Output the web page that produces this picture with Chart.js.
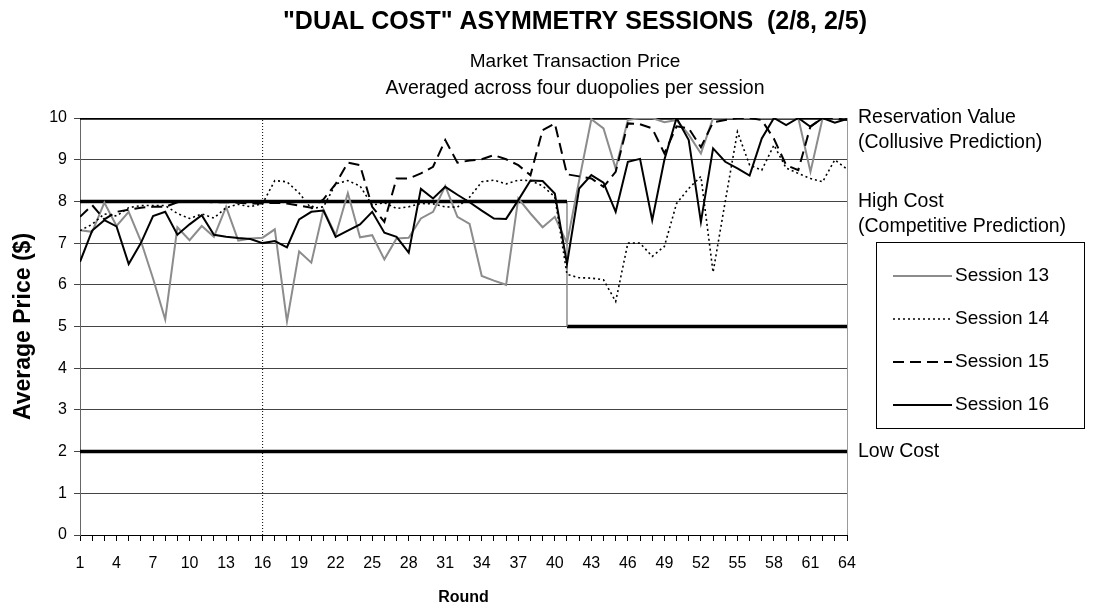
<!DOCTYPE html>
<html lang="en">
<head>
<meta charset="UTF-8" />
<title>Dual Cost Asymmetry Sessions</title>
<style>
  body { margin: 0; background: #fff; }
  #wrap { width: 1096px; height: 615px; }
</style>
</head>
<body>
<div id="wrap"><canvas id="priceChart"></canvas></div>
<script src="https://cdn.jsdelivr.net/npm/chart.js"></script>
<script>
// rounds 1..64
const rounds = [1, 2, 3, 4, 5, 6, 7, 8, 9, 10, 11, 12, 13, 14, 15, 16,
  17, 18, 19, 20, 21, 22, 23, 24, 25, 26, 27, 28, 29, 30, 31, 32,
  33, 34, 35, 36, 37, 38, 39, 40, 41, 42, 43, 44, 45, 46, 47, 48,
  49, 50, 51, 52, 53, 54, 55, 56, 57, 58, 59, 60, 61, 62, 63, 64];

// average price per round
const session13 = [7.31, 7.27, 7.97, 7.41, 7.75, 7.05, 6.15, 5.17, 7.38, 7.07, 7.41, 7.15, 7.87, 7.06, 7.11, 7.13,
  7.33, 5.12, 6.8, 6.53, 7.8, 7.19, 8.2, 7.14, 7.19, 6.61, 7.11, 7.13, 7.59, 7.75, 8.37, 7.63,
  7.46, 6.21, 6.1, 6.0, 8.07, 7.71, 7.38, 7.63, 7.0, 8.5, 9.97, 9.75, 8.79, 9.95, 10, 10,
  9.9, 9.95, 9.6, 9.15, 10, 10, 10, 10, 10, 10, 10, 10, 8.71, 10, 10, 10];
const session14 = [7.3, 7.45, 7.7, 7.65, 7.85, 7.9, 7.9, 7.9, 7.71, 7.59, 7.7, 7.6, 7.85, 7.93, 7.87, 7.95,
  8.5, 8.47, 8.2, 7.83, 7.87, 8.42, 8.5, 8.37, 7.91, 7.97, 7.83, 7.87, 7.95, 7.94, 7.87, 7.86,
  8.1, 8.47, 8.51, 8.42, 8.51, 8.5, 8.37, 8.11, 6.25, 6.17, 6.16, 6.12, 5.6, 7.0, 7.0, 6.68,
  6.92, 7.95, 8.31, 8.6, 6.3, 8.0, 9.67, 8.87, 8.75, 9.35, 8.8, 8.67, 8.55, 8.47, 9.0, 8.77];
const session15 = [7.63, 7.91, 7.57, 7.75, 7.8, 7.85, 7.87, 7.87, 7.98, 8.0, 8.0, 7.98, 7.98, 7.97, 7.95, 7.95,
  7.97, 7.95, 7.9, 7.85, 8.05, 8.42, 8.93, 8.87, 7.87, 7.51, 8.55, 8.55, 8.67, 8.83, 9.47, 8.93,
  8.98, 9.01, 9.11, 9.01, 8.87, 8.63, 9.71, 9.87, 8.65, 8.6, 8.55, 8.35, 8.71, 9.87, 9.85, 9.75,
  9.15, 9.8, 9.75, 9.3, 9.9, 9.95, 10, 10, 9.95, 9.5, 8.87, 8.75, 9.8, 10, 10, 9.95];
const session16 = [6.55, 7.3, 7.55, 7.4, 6.5, 7.0, 7.65, 7.75, 7.2, 7.45, 7.67, 7.2, 7.15, 7.12, 7.1, 7.0,
  7.05, 6.9, 7.57, 7.75, 7.78, 7.15, 7.3, 7.45, 7.75, 7.25, 7.15, 6.77, 8.3, 8.07, 8.35, 8.16,
  7.98, 7.78, 7.59, 7.58, 8.03, 8.5, 8.49, 8.19, 6.5, 8.31, 8.63, 8.45, 7.75, 8.95, 9.02, 7.55,
  9.0, 10, 9.47, 7.51, 9.27, 8.95, 8.79, 8.62, 9.51, 10, 9.83, 10, 9.79, 10, 9.89, 9.98];

// predictions
const reservationValue = 10;
const highCostBefore = 8;
const highCostAfter = 5;
const costSwitchRound = 41;
const lowCost = 2;
const markerRound = 16;

const xTickLabels = [1, 4, 7, 10, 13, 16, 19, 22, 25, 28, 31, 34, 37, 40, 43, 46, 49, 52, 55, 58, 61, 64];
const yTickLabels = [0, 1, 2, 3, 4, 5, 6, 7, 8, 9, 10];

const FONT = "'Liberation Sans', Arial, sans-serif";
const firstRound = rounds[0];
const lastRound = rounds[rounds.length - 1];

function toPoints(values) {
  return values.map((v, i) => ({ x: rounds[i], y: v }));
}

const sessionSets = [
  { label: "Session 13", data: toPoints(session13), borderColor: "#8c8c8c", borderWidth: 2, borderDash: [], order: 3 },
  { label: "Session 14", data: toPoints(session14), borderColor: "#000", borderWidth: 1.6, borderDash: [2, 3], order: 2 },
  { label: "Session 15", data: toPoints(session15), borderColor: "#000", borderWidth: 2, borderDash: [11, 6], order: 1 },
  { label: "Session 16", data: toPoints(session16), borderColor: "#000", borderWidth: 2, borderDash: [], order: 0 },
];

const refSets = [
  { label: "ref", data: [{ x: firstRound, y: reservationValue }, { x: lastRound, y: reservationValue }], borderColor: "#000", borderWidth: 3.5 },
  { label: "ref", data: [{ x: firstRound, y: highCostBefore }, { x: costSwitchRound, y: highCostBefore }], borderColor: "#000", borderWidth: 3.5 },
  { label: "ref", data: [{ x: costSwitchRound, y: highCostBefore }, { x: costSwitchRound, y: highCostAfter }], borderColor: "#8c8c8c", borderWidth: 1.5 },
  { label: "ref", data: [{ x: costSwitchRound, y: highCostAfter }, { x: lastRound, y: highCostAfter }], borderColor: "#000", borderWidth: 3.5 },
  { label: "ref", data: [{ x: firstRound, y: lowCost }, { x: lastRound, y: lowCost }], borderColor: "#000", borderWidth: 3.5 },
  { label: "ref", data: [{ x: markerRound, y: 0 }, { x: markerRound, y: reservationValue }], borderColor: "#000", borderWidth: 1, borderDash: [1, 2] },
].map((d) => Object.assign(d, { order: 5 }));

// titles, right side notes, legend box, right frame
const decorPlugin = {
  id: "decor",
  afterDraw(chart) {
    const ctx = chart.ctx;
    const area = chart.chartArea;
    const ys = chart.scales.y;
    ctx.save();

    ctx.strokeStyle = "#9a9a9a";
    ctx.lineWidth = 1;
    ctx.beginPath();
    ctx.moveTo(area.right + 0.5, area.top);
    ctx.lineTo(area.right + 0.5, area.bottom);
    ctx.stroke();

    ctx.fillStyle = "#000";
    ctx.textAlign = "center";
    ctx.textBaseline = "middle";
    const cx = 575;
    ctx.font = "bold 25px " + FONT;
    ctx.fillText('"DUAL COST" ASYMMETRY SESSIONS  (2/8, 2/5)', cx, 22);
    ctx.font = "19px " + FONT;
    ctx.fillText("Market Transaction Price", cx, 62);
    ctx.font = "19.5px " + FONT;
    ctx.fillText("Averaged across four duopolies per session", cx, 89);

    ctx.textAlign = "left";
    ctx.font = "19.5px " + FONT;
    const lx = area.right + 11;
    ctx.fillText("Reservation Value", lx, ys.getPixelForValue(reservationValue));
    ctx.fillText("(Collusive Prediction)", lx, ys.getPixelForValue(reservationValue) + 25);
    ctx.fillText("High Cost", lx, ys.getPixelForValue(highCostBefore));
    ctx.fillText("(Competitive Prediction)", lx, ys.getPixelForValue(highCostBefore) + 25);
    ctx.fillText("Low Cost", lx, ys.getPixelForValue(lowCost));

    // legend
    const box = { x: 876.5, y: 242.5, w: 208, h: 186 };
    ctx.strokeStyle = "#000";
    ctx.lineWidth = 1;
    ctx.strokeRect(box.x, box.y, box.w, box.h);
    ctx.font = "19px " + FONT;
    sessionSets.forEach((s, i) => {
      const y = 276 + i * 43;
      ctx.strokeStyle = s.borderColor;
      ctx.lineWidth = s.borderWidth;
      ctx.setLineDash(s.borderDash);
      ctx.beginPath();
      ctx.moveTo(893, y);
      ctx.lineTo(952, y);
      ctx.stroke();
      ctx.setLineDash([]);
      ctx.fillStyle = "#000";
      ctx.fillText(s.label, 955, y);
    });
    ctx.restore();
  },
};

new Chart(document.getElementById("priceChart"), {
  type: "line",
  data: { datasets: sessionSets.concat(refSets) },
  options: {
    responsive: true,
    maintainAspectRatio: false,
    animation: false,
    layout: { padding: { left: 0, right: 249, top: 118, bottom: 0 } },
    elements: { point: { radius: 0 }, line: { tension: 0 } },
    plugins: { legend: { display: false }, tooltip: { enabled: false } },
    scales: {
      x: {
        type: "linear",
        min: firstRound,
        max: lastRound,
        afterFit(scale) { scale.height = 80; },
        afterBuildTicks(scale) { scale.ticks = rounds.map((r) => ({ value: r })); },
        ticks: {
          autoSkip: false,
          maxRotation: 0,
          padding: 13,
          color: "#000",
          font: { family: FONT, size: 16 },
          callback: (v) => (xTickLabels.includes(v) ? String(v) : ""),
        },
        grid: { drawOnChartArea: false, tickLength: 6, color: "#000" },
        border: { color: "#000", width: 1 },
        title: { display: true, text: "Round", color: "#000", font: { family: FONT, size: 16, weight: "bold" }, padding: { top: 4, bottom: 8 } },
      },
      y: {
        min: 0,
        max: 10,
        afterFit(scale) { scale.width = 80; },
        afterBuildTicks(scale) { scale.ticks = yTickLabels.map((v) => ({ value: v })); },
        ticks: { padding: 7, color: "#000", font: { family: FONT, size: 16 } },
        grid: { color: "#444", lineWidth: 1, tickLength: 6 },
        border: { color: "#666", width: 1 },
        title: { display: true, text: "Average Price ($)", color: "#000", font: { family: FONT, size: 23, weight: "bold" }, padding: { top: 10, bottom: 4 } },
      },
    },
  },
  plugins: [decorPlugin],
});
</script>
</body>
</html>
